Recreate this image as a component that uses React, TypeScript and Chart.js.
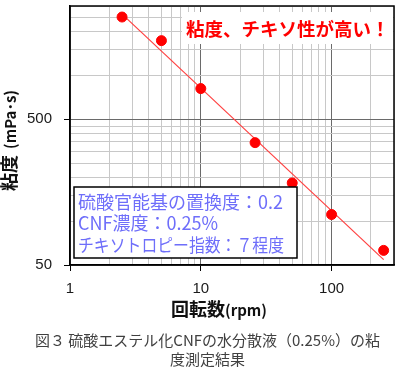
import React, { useEffect, useRef } from "react";
import { Chart, registerables } from "chart.js";

Chart.register(...registerables);

// ---------------- data ----------------
const rpm = [2.5, 5, 10, 26, 50, 100, 250];
const viscosity = [2520, 1735, 813, 346, 183, 111, 63];

const xTicks = [1, 2, 3, 4, 5, 6, 7, 8, 9, 10, 20, 30, 40, 50, 60, 70, 80, 90, 100, 200, 300];
const xTickLabels = [1, 10, 100];
const xMajorLines = [10, 100];
const yTicks = [50, 100, 150, 200, 250, 300, 350, 400, 450, 500, 1000, 1500, 2000, 2500, 3000];
const yTickLabels = [50, 500];
const yMajorLines = [500];

const xTitleMain = "回転数";
const xTitleUnit = "(rpm)";
const yTitleMain = "粘度";
const yTitleUnit = "(mPa･s)";
const highlightText = "粘度、チキソ性が高い！";
const infoLines = ["硫酸官能基の置換度：0.2", "CNF濃度：0.25%", "チキソトロピー指数：７程度"];
const captionLines = ["図３ 硫酸エステル化CNFの水分散液（0.25%）の粘", "度測定結果"];

// power-law trend line (least squares in log-log space, like Excel)
function powerFit(xs: number[], ys: number[]) {
  const lx = xs.map(Math.log10);
  const ly = ys.map(Math.log10);
  const n = lx.length;
  const mx = lx.reduce((a, b) => a + b, 0) / n;
  const my = ly.reduce((a, b) => a + b, 0) / n;
  let sxy = 0;
  let sxx = 0;
  for (let i = 0; i < n; i++) {
    sxy += (lx[i] - mx) * (ly[i] - my);
    sxx += (lx[i] - mx) * (lx[i] - mx);
  }
  const b = sxy / sxx;
  const a = my - b * mx;
  return (x: number) => Math.pow(10, a + b * Math.log10(x));
}

const JP = '"Noto Sans CJK JP", "Noto Sans", sans-serif';

const decorPlugin = {
  id: "decor",
  afterDraw(chart: any) {
    const { ctx, chartArea: ca } = chart;
    ctx.save();
    // plot frame
    ctx.strokeStyle = "#000";
    ctx.lineWidth = 1.5;
    ctx.strokeRect(ca.left, ca.top, ca.right - ca.left, ca.bottom - ca.top);

    // highlight label
    ctx.fillStyle = "#ffffff";
    ctx.fillRect(ca.left + 112, ca.top + 6, 211, 32);
    ctx.font = `bold 18.5px ${JP}`;
    ctx.fillStyle = "#ff0000";
    ctx.textBaseline = "middle";
    ctx.textAlign = "left";
    ctx.fillText(highlightText, ca.left + 116, ca.top + 23);

    // info box
    const bx = ca.left + 4;
    const by = ca.bottom - 78;
    ctx.fillStyle = "#ffffff";
    ctx.fillRect(bx, by, 223, 71);
    ctx.strokeStyle = "#000";
    ctx.lineWidth = 1.5;
    ctx.strokeRect(bx, by, 223, 71);
    ctx.font = `18px ${JP}`;
    ctx.fillStyle = "#6e6efa";
    infoLines.forEach((t, i) => {
      ctx.fillText(t, bx + 4, by + 15 + i * 21.5, 206);
    });

    // x title
    ctx.fillStyle = "#111";
    ctx.textBaseline = "alphabetic";
    ctx.font = `bold 18px ${JP}`;
    const xw1 = ctx.measureText(xTitleMain).width;
    ctx.font = `bold 15px ${JP}`;
    const xw2 = ctx.measureText(xTitleUnit).width;
    const xc = (ca.left + ca.right) / 2 - 13;
    const xs = xc - (xw1 + xw2) / 2;
    const xb = ca.bottom + 51;
    ctx.font = `bold 18px ${JP}`;
    ctx.fillText(xTitleMain, xs, xb);
    ctx.font = `bold 15px ${JP}`;
    ctx.fillText(xTitleUnit, xs + xw1, xb);

    // y title (rotated)
    ctx.save();
    ctx.translate(15.5, (ca.top + ca.bottom) / 2 + 5);
    ctx.rotate(-Math.PI / 2);
    ctx.font = `bold 18px ${JP}`;
    const yw1 = ctx.measureText(yTitleMain).width;
    ctx.font = `bold 15px ${JP}`;
    const yw2 = ctx.measureText(yTitleUnit).width;
    const gap = 6;
    const ys = -(yw1 + gap + yw2) / 2;
    ctx.font = `bold 18px ${JP}`;
    ctx.fillText(yTitleMain, ys, 0);
    ctx.font = `bold 15px ${JP}`;
    ctx.fillText(yTitleUnit, ys + yw1 + gap, 0);
    ctx.restore();

    ctx.restore();
  },
};

export default function App() {
  const ref = useRef<HTMLCanvasElement | null>(null);

  useEffect(() => {
    if (!ref.current) return;
    const fit = powerFit(rpm, viscosity);
    const trendX = [rpm[0], rpm[rpm.length - 1]];
    const chart = new Chart(ref.current, {
      type: "scatter",
      data: {
        datasets: [
          {
            label: "trend",
            data: trendX.map((x) => ({ x, y: fit(x) })),
            showLine: true,
            borderColor: "#ff4040",
            borderWidth: 1.2,
            pointRadius: 0,
            order: 2,
          },
          {
            label: "viscosity",
            data: rpm.map((x, i) => ({ x, y: viscosity[i] })),
            showLine: false,
            backgroundColor: "#ff0000",
            borderColor: "#ff0000",
            pointRadius: 5,
            order: 1,
          },
        ],
      },
      options: {
        responsive: false,
        animation: false,
        events: [],
        layout: { padding: { top: 4, right: 6, left: 0, bottom: 0 } },
        plugins: { legend: { display: false }, tooltip: { enabled: false } },
        scales: {
          x: {
            type: "logarithmic",
            min: 1,
            max: 300,
            afterBuildTicks: (s: any) => {
              s.ticks = xTicks.map((v) => ({ value: v }));
            },
            afterFit: (s: any) => {
              s.height = 105;
              s.paddingLeft = 0;
              s.paddingRight = 0;
            },
            ticks: {
              autoSkip: false,
              maxRotation: 0,
              padding: 9,
              color: "#1a1a1a",
              font: { family: '"Liberation Sans", sans-serif', size: 15 },
              callback: (v: any) => (xTickLabels.includes(Number(v)) ? String(v) : ""),
            },
            grid: {
              color: (c: any) => (xMajorLines.includes(c.tick?.value) ? "#6a6a6a" : "#c8c8c8"),
              tickColor: (c: any) => (xTickLabels.includes(c.tick?.value) ? "#000" : "rgba(0,0,0,0)"),
              tickLength: 6,
              lineWidth: 1,
            },
            border: { display: true, color: "#000", width: 1.5 },
          },
          y: {
            type: "logarithmic",
            min: 50,
            max: 3000,
            afterBuildTicks: (s: any) => {
              s.ticks = yTicks.map((v) => ({ value: v }));
            },
            afterFit: (s: any) => {
              s.width = 70;
              s.paddingTop = 0;
              s.paddingBottom = 0;
            },
            ticks: {
              autoSkip: false,
              padding: 12,
              color: "#1a1a1a",
              font: { family: '"Liberation Sans", sans-serif', size: 15 },
              callback: (v: any) => (yTickLabels.includes(Number(v)) ? String(v) : ""),
            },
            grid: {
              color: (c: any) => (yMajorLines.includes(c.tick?.value) ? "#6a6a6a" : "#c8c8c8"),
              tickColor: (c: any) => (yTickLabels.includes(c.tick?.value) ? "#000" : "rgba(0,0,0,0)"),
              tickLength: 6,
              lineWidth: 1,
            },
            border: { display: true, color: "#000", width: 1.5 },
          },
        },
      },
      plugins: [decorPlugin],
    } as any);
    return () => chart.destroy();
  }, []);

  return (
    <div style={{ position: "absolute", left: 0, top: 0, width: 400, height: 370, background: "#fff" }}>
      <canvas ref={ref} width={400} height={370} style={{ display: "block" }} />
      <div
        style={{
          position: "absolute",
          left: 0,
          top: 330,
          width: 415,
          textAlign: "center",
          fontFamily: JP,
          fontSize: 15,
          lineHeight: "19px",
          color: "#404040",
        }}
      >
        {captionLines.map((l, i) => (
          <div key={i}>{l}</div>
        ))}
      </div>
    </div>
  );
}
